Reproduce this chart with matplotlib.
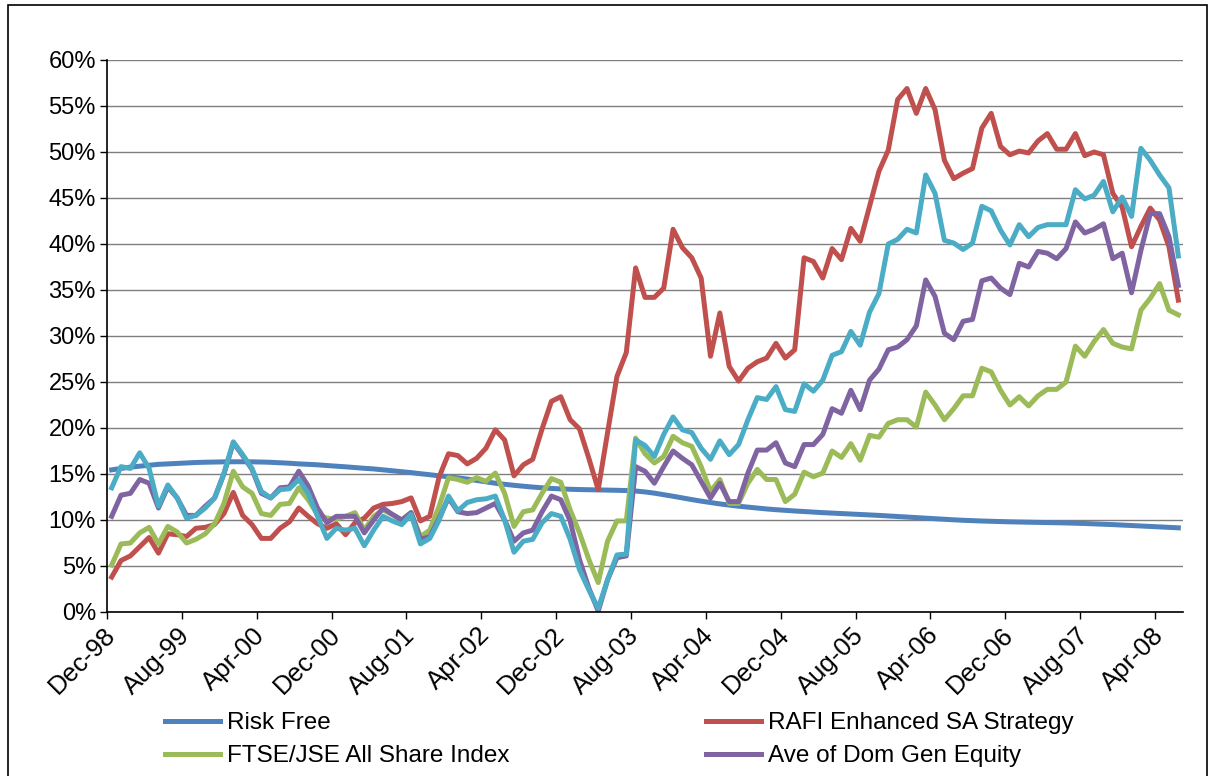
import numpy as np
import pandas as pd
import matplotlib
matplotlib.use('Agg')
import matplotlib.pyplot as plt
from matplotlib.patches import Rectangle
from matplotlib.ticker import MultipleLocator, FuncFormatter

plt.rcParams['font.family'] = ['Liberation Sans', 'DejaVu Sans']

# monthly categories, Dec-98 .. Jun-08
months = pd.period_range('1998-12', '2008-06', freq='M')
tick_labels = ['Dec-98', 'Aug-99', 'Apr-00', 'Dec-00', 'Aug-01', 'Apr-02', 'Dec-02',
               'Aug-03', 'Apr-04', 'Dec-04', 'Aug-05', 'Apr-06', 'Dec-06', 'Aug-07', 'Apr-08']

# rolling returns, in percent
risk_free = [
    15.45, 15.6, 15.75, 15.85, 15.95, 16.05, 16.1, 16.15, 16.2, 16.25,
    16.28, 16.3, 16.32, 16.33, 16.33, 16.32, 16.3, 16.27, 16.22, 16.17,
    16.1, 16.05, 16.0, 15.92, 15.85, 15.78, 15.7, 15.62, 15.55, 15.45,
    15.35, 15.25, 15.15, 15.03, 14.92, 14.8, 14.7, 14.58, 14.45, 14.3,
    14.15, 14.0, 13.88, 13.77, 13.67, 13.58, 13.5, 13.43, 13.38, 13.34,
    13.31, 13.29, 13.27, 13.25, 13.23, 13.2, 13.15, 13.05, 12.92, 12.75,
    12.58, 12.4, 12.22, 12.05, 11.9, 11.75, 11.62, 11.5, 11.4, 11.3,
    11.2, 11.12, 11.05, 10.98, 10.92, 10.86, 10.8, 10.75, 10.7, 10.65,
    10.6, 10.55, 10.5, 10.44, 10.38, 10.32, 10.26, 10.2, 10.14, 10.08,
    10.02, 9.97, 9.93, 9.89, 9.86, 9.83, 9.8, 9.78, 9.76, 9.74,
    9.72, 9.7, 9.68, 9.65, 9.62, 9.58, 9.54, 9.5, 9.45, 9.4,
    9.35, 9.3, 9.25, 9.2, 9.15,
]
rafi_enhanced = [
    3.8, 5.6, 6.1, 7.1, 8.1, 6.4, 8.5, 8.4, 8.2, 9.1,
    9.2, 9.5, 10.7, 13.0, 10.5, 9.5, 8.0, 8.0, 9.1, 9.8,
    11.3, 10.4, 9.6, 9.1, 9.6, 8.4, 9.7, 10.2, 11.3, 11.7,
    11.8, 12.0, 12.4, 9.9, 10.4, 14.7, 17.2, 17.0, 16.1, 16.7,
    17.8, 19.8, 18.7, 14.8, 16.0, 16.6, 19.9, 22.9, 23.4, 20.9,
    19.9, 16.7, 13.3, 19.5, 25.6, 28.2, 37.4, 34.2, 34.2, 35.2,
    41.6, 39.6, 38.5, 36.3, 27.8, 32.5, 26.7, 25.1, 26.5, 27.2,
    27.6, 29.2, 27.6, 28.5, 38.5, 38.1, 36.3, 39.5, 38.3, 41.7,
    40.3, 44.1, 47.9, 50.2, 55.7, 56.9, 54.2, 56.9, 54.6, 49.1,
    47.1, 47.7, 48.2, 52.6, 54.2, 50.6, 49.7, 50.1, 49.9, 51.2,
    52.0, 50.3, 50.3, 52.0, 49.6, 50.0, 49.7, 45.5, 44.0, 39.7,
    41.9, 43.9, 42.6, 39.7, 33.9,
]
ftse_jse_alsi = [
    5.1, 7.4, 7.5, 8.6, 9.2, 7.4, 9.3, 8.7, 7.5, 7.9,
    8.5, 9.6, 11.8, 15.3, 13.6, 12.9, 10.7, 10.5, 11.7, 11.8,
    13.5, 12.2, 10.6, 10.2, 10.1, 10.4, 10.8, 8.9, 10.4, 11.1,
    10.6, 10.0, 10.8, 8.2, 8.9, 11.5, 14.6, 14.4, 14.1, 14.6,
    14.2, 15.1, 12.9, 9.3, 10.9, 11.1, 12.9, 14.5, 14.1, 11.1,
    8.6, 5.7, 3.2, 7.7, 9.9, 9.9, 18.9, 17.2, 16.2, 16.9,
    19.1, 18.4, 18.0, 15.8, 13.1, 14.4, 11.8, 11.8, 14.0, 15.5,
    14.4, 14.4, 12.0, 12.8, 15.2, 14.7, 15.1, 17.5, 16.8, 18.3,
    16.5, 19.2, 19.0, 20.5, 20.9, 20.9, 20.1, 23.9, 22.5, 20.9,
    22.1, 23.5, 23.5, 26.5, 26.1, 24.1, 22.5, 23.4, 22.4, 23.5,
    24.2, 24.2, 25.0, 28.9, 27.8, 29.4, 30.7, 29.2, 28.8, 28.6,
    32.8, 34.1, 35.7, 32.8, 32.3,
]
dom_gen_equity = [
    10.4, 12.7, 12.9, 14.4, 14.0, 11.3, 13.6, 12.4, 10.5, 10.5,
    11.5, 12.4, 15.0, 18.4, 17.0, 15.5, 12.9, 12.4, 13.5, 13.6,
    15.3, 13.7, 11.3, 9.7, 10.4, 10.4, 10.4, 8.6, 10.0, 11.3,
    10.6, 10.0, 10.8, 7.9, 8.2, 10.2, 12.4, 10.9, 10.7, 10.8,
    11.3, 11.8, 10.0, 7.7, 8.6, 8.9, 10.9, 12.6, 12.2, 9.9,
    5.7, 2.6, 0.1, 3.5, 5.9, 6.1, 15.8, 15.3, 14.0, 15.8,
    17.5, 16.7, 16.0, 14.2, 12.4, 14.0, 12.0, 12.0, 15.1, 17.6,
    17.6, 18.4, 16.2, 15.8, 18.2, 18.2, 19.3, 22.1, 21.6, 24.1,
    22.0, 25.2, 26.4, 28.5, 28.8, 29.6, 31.1, 36.1, 34.3, 30.3,
    29.6, 31.6, 31.8, 36.0, 36.3, 35.2, 34.5, 37.9, 37.5, 39.2,
    39.0, 38.4, 39.5, 42.4, 41.2, 41.6, 42.2, 38.4, 39.0, 34.7,
    39.3, 43.3, 43.3, 40.8, 35.5,
]
rafi_sa = [
    13.5, 15.8, 15.6, 17.3, 15.6, 11.5, 13.8, 12.4, 10.2, 10.5,
    11.3, 12.4, 15.1, 18.5, 17.1, 15.6, 13.1, 12.4, 13.3, 13.4,
    14.4, 12.9, 10.4, 8.0, 9.1, 8.9, 9.1, 7.2, 8.9, 10.4,
    9.9, 9.5, 10.6, 7.4, 8.0, 10.0, 12.6, 11.0, 11.9, 12.2,
    12.3, 12.6, 10.0, 6.5, 7.7, 7.9, 9.7, 10.7, 10.4, 7.9,
    4.6, 2.4, 0.4, 3.5, 6.2, 6.3, 18.7, 18.1, 16.9, 19.3,
    21.2, 19.8, 19.5, 17.8, 16.6, 18.6, 17.1, 18.2, 20.9, 23.3,
    23.1, 24.5, 22.0, 21.8, 24.8, 24.0, 25.2, 27.9, 28.3, 30.5,
    29.0, 32.6, 34.6, 40.0, 40.5, 41.6, 41.2, 47.5, 45.5, 40.4,
    40.1, 39.4, 40.1, 44.1, 43.6, 41.5, 39.9, 42.1, 40.8, 41.8,
    42.1, 42.1, 42.1, 45.9, 44.9, 45.3, 46.8, 43.5, 45.1, 43.0,
    50.4, 49.1, 47.5, 46.1, 38.7,
]

fig = plt.figure(figsize=(12.14, 7.76), dpi=100)
ax = fig.add_axes([107 / 1214, 1 - 612 / 776, (1183 - 107) / 1214, 552 / 776])

x = np.arange(len(months))
lw = 3.6
h_rf, = ax.plot(x, risk_free, color='#4F81BD', lw=lw, label='Risk Free')
h_rafi, = ax.plot(x, rafi_enhanced, color='#C0504D', lw=lw, label='RAFI Enhanced SA Strategy')
h_ftse, = ax.plot(x, ftse_jse_alsi, color='#9BBB59', lw=lw, label='FTSE/JSE All Share Index')
h_dom, = ax.plot(x, dom_gen_equity, color='#8064A2', lw=lw, label='Ave of Dom Gen Equity')
ax.plot(x, rafi_sa, color='#4BACC6', lw=lw)

ax.set_xlim(-0.5, len(months) - 0.5)
ax.set_ylim(0, 60)
ax.yaxis.set_major_locator(MultipleLocator(5))
ax.yaxis.set_major_formatter(FuncFormatter(lambda v, p: f'{v:.0f}%'))
ax.grid(axis='y', color='#7f7f7f', lw=1)
ax.set_axisbelow(True)

# tick marks sit between categories, labels on every 8th month
ax.set_xticks(np.arange(-0.5, len(months), 8))
ax.set_xticklabels([])
ax.set_xticks(np.arange(0, len(months), 8), minor=True)
ax.set_xticklabels(tick_labels, minor=True, rotation=45, ha='right', va='center',
                   rotation_mode='anchor', fontsize=18.5)
ax.tick_params(axis='x', which='major', direction='out', length=5, width=1)
ax.tick_params(axis='x', which='minor', length=0, pad=14)
ax.tick_params(axis='y', direction='out', length=5, width=1, labelsize=17, pad=3)

for side in ('top', 'right'):
    ax.spines[side].set_visible(False)
for side in ('left', 'bottom'):
    ax.spines[side].set_color('black')
    ax.spines[side].set_linewidth(1.2)

fig.legend(handles=[h_rf, h_ftse, h_rafi, h_dom], ncol=2, loc='upper left',
           bbox_to_anchor=(165 / 1214, 1 - 712 / 776), frameon=False, fontsize=17.5,
           handlelength=2.25, handletextpad=0.3, columnspacing=8.1,
           labelspacing=0.46, borderpad=0, borderaxespad=0)

# chart area border
fig.patches.append(Rectangle((8 / 1214, -0.05), (1207 - 8) / 1214, 1.05 - 5 / 776,
                             transform=fig.transFigure, fill=False, ec='black', lw=1.2))

fig.savefig('out.png', dpi=100)
